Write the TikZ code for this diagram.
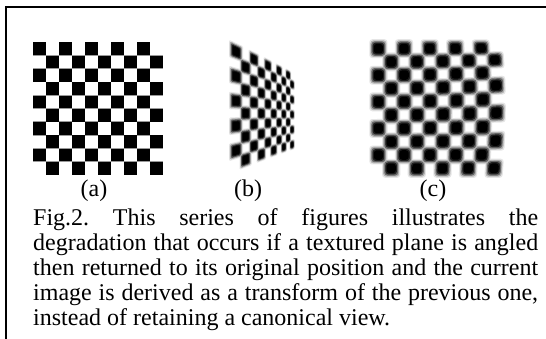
\documentclass[tikz,border=0pt]{standalone}
\usepackage{fontspec}
\setmainfont{Liberation Serif}
\usetikzlibrary{calc}
\begin{document}
\frenchspacing
\begin{tikzpicture}[x=1pt,y=-1pt,
  declare function={
    bx(\u)=231+63*\u*(1+0.74)/(1+0.74*\u);
    by(\u,\v)=107+4*\u+(\v-0.5)*128/(1+0.74*\u);
    cx(\u,\v)=372+128*\u+3*\u*\u*sin(180*\v);
    cy(\u,\v)=42+133*\v-6*\u*\u*sin(180*\v)*(1-\v);
  },
  lbl/.style={font=\fontsize{24}{25}\selectfont, inner sep=0pt, anchor=base},
  captxt/.style={font=\fontsize{24}{25}\selectfont, inner sep=0pt, anchor=base west},
  frameline/.style={line width=2pt, line cap=rect}]
\useasboundingbox (0,0) rectangle (546,338);
\fill[white] (0,0) rectangle (546,338);
\draw[frameline] (6,340) -- (6,7) -- (548,7);
% board (a)
\foreach \i in {0,...,9}{\foreach \j in {0,...,9}{
  \pgfmathtruncatemacro\pr{mod(\i+\j,2)}
  \ifnum\pr=0
    \fill[black!40] ({32.6+13*\i},{41.6+13.3*\j}) rectangle ++(13.8,14.1);
    \fill[black] ({33.3+13*\i},{42.3+13.3*\j}) rectangle ++(12.4,12.7);
  \fi}}
% board (b)
\foreach \sc/\cl in {1.38/black!10,1.2/black!32,1.02/black!65,0.84/black!90,0.68/black}{
 \foreach \i in {0,...,9}{\foreach \j in {0,...,9}{
  \pgfmathtruncatemacro\pr{mod(\i+\j,2)}
  \ifnum\pr=0
   \pgfmathsetmacro\ua{\i/10}\pgfmathsetmacro\ub{(\i+1)/10}
   \pgfmathsetmacro\va{\j/10}\pgfmathsetmacro\vb{(\j+1)/10}
   \coordinate (q1) at ({bx(\ua)},{by(\ua,\va)});
   \coordinate (q2) at ({bx(\ub)},{by(\ub,\va)});
   \coordinate (q3) at ({bx(\ub)},{by(\ub,\vb)});
   \coordinate (q4) at ({bx(\ua)},{by(\ua,\vb)});
   \coordinate (qc) at ($0.25*(q1)+0.25*(q2)+0.25*(q3)+0.25*(q4)$);
   \fill[\cl, rounded corners=1.2pt] ($(qc)!\sc!(q1)$) -- ($(qc)!\sc!(q2)$) -- ($(qc)!\sc!(q3)$) -- ($(qc)!\sc!(q4)$) -- cycle;
  \fi}}}
% board (c)
\foreach \sc/\cl in {1.42/black!10,1.25/black!30,1.08/black!60,0.9/black!88,0.72/black}{
 \foreach \i in {0,...,9}{\foreach \j in {0,...,9}{
  \pgfmathtruncatemacro\pr{mod(\i+\j,2)}
  \ifnum\pr=0
   \pgfmathsetmacro\ua{\i/10}\pgfmathsetmacro\ub{(\i+1)/10}
   \pgfmathsetmacro\va{\j/10}\pgfmathsetmacro\vb{(\j+1)/10}
   \coordinate (q1) at ({cx(\ua,\va)},{cy(\ua,\va)});
   \coordinate (q2) at ({cx(\ub,\va)},{cy(\ub,\va)});
   \coordinate (q3) at ({cx(\ub,\vb)},{cy(\ub,\vb)});
   \coordinate (q4) at ({cx(\ua,\vb)},{cy(\ua,\vb)});
   \coordinate (qc) at ($0.25*(q1)+0.25*(q2)+0.25*(q3)+0.25*(q4)$);
   \fill[\cl, rounded corners=3pt] ($(qc)!\sc!(q1)$) -- ($(qc)!\sc!(q2)$) -- ($(qc)!\sc!(q3)$) -- ($(qc)!\sc!(q4)$) -- cycle;
  \fi}}}
% labels
\node[lbl] (la) at (94,196) {(a)};
\node[lbl] (lb) at (248,196) {(b)};
\node[lbl] (lc) at (433,196) {(c)};
% caption
\node[captxt] (c1) at (33,225) {\makebox[505pt][s]{Fig.2. This series of figures illustrates the}};
\node[captxt] (c2) at (33,250) {\makebox[505pt][s]{degradation that occurs if a textured plane is angled}};
\node[captxt] (c3) at (33,275) {\makebox[505pt][s]{then returned to its original position and the current}};
\node[captxt] (c4) at (33,300) {\makebox[505pt][s]{image is derived as a transform of the previous one,}};
\node[captxt] (c5) at (33,325) {instead of retaining a canonical view.};
\end{tikzpicture}
\end{document}
